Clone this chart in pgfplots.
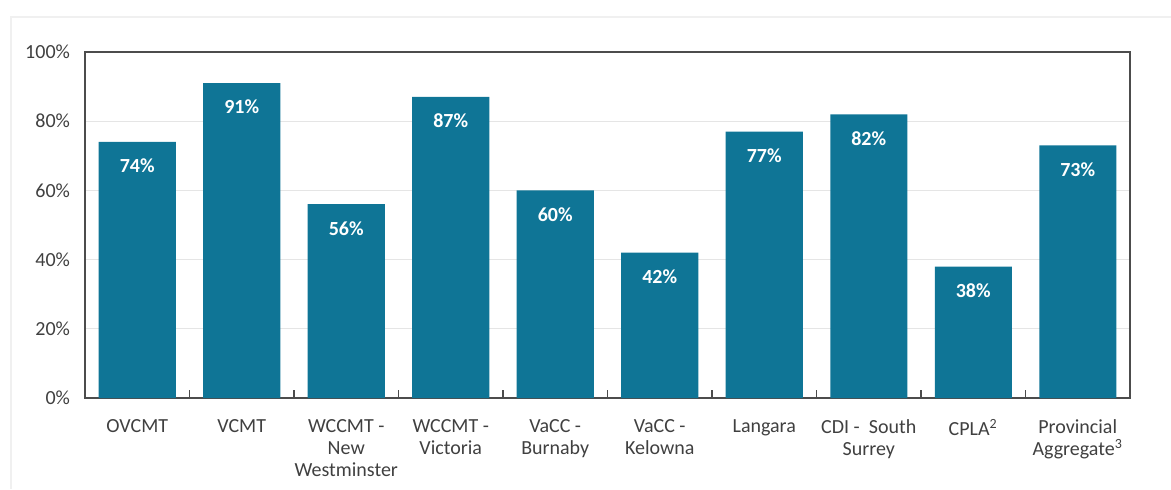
\documentclass[border=0pt]{standalone}
\usepackage{pgfplots}
\pgfplotsset{compat=1.18}
\usepackage{fontspec}
\setmainfont{Carlito}
\definecolor{barc}{HTML}{0F7596}
\definecolor{txt}{HTML}{404040}
\begin{document}
\begin{tikzpicture}
\useasboundingbox (0pt,0pt) rectangle (585.5pt,244.5pt);
\draw[gray!12,line width=0.8pt] (5.5pt,0pt) -- (5.5pt,236pt) -- (585.5pt,236pt);
\begin{axis}[
  at={(42.5pt,45.5pt)}, anchor=south west,
  scale only axis, width=522.5pt, height=173pt,
  ymin=0, ymax=100, xmin=-0.5, xmax=9.5,
  ytick={0,20,...,100},
  yticklabel={\pgfmathprintnumber{\tick}\%},
  /pgf/number format/assume math mode=true,
  ymajorgrids, grid style={gray!20, line width=0.6pt},
  major y tick style={draw=none},
  axis line style={draw=black!70, line width=0.8pt},
  xtick=data,
  xticklabels={OVCMT,VCMT,{WCCMT -\\New\\Westminster},{WCCMT -\\Victoria},{VaCC -\\Burnaby},{VaCC -\\Kelowna},Langara,{CDI -~~South\\Surrey},{CPLA\textsuperscript{2}},{Provincial\\Aggregate\textsuperscript{3}}},
  major x tick style={draw=none},
  extra x ticks={0.5,1.5,...,8.5},
  extra x tick labels={},
  extra x tick style={major tick length=4pt, tick pos=bottom, tick align=inside, major x tick style={draw=black!70,line width=0.7pt}, grid=none},
  xticklabel style={align=center, font=\fontsize{10}{11}\selectfont, text=txt, yshift=-3pt},
  yticklabel style={font=\fontsize{10}{11}\selectfont, text=txt, xshift=-4pt},
  ybar, bar width=38.5pt,
  nodes near coords={\pgfmathprintnumber{\pgfplotspointmeta}\%},
  every node near coord/.append style={anchor=center, yshift=-12pt, font=\bfseries\fontsize{10}{12}\selectfont, text=white},
]
\addplot[fill=barc, draw=none] coordinates {(0,74) (1,91) (2,56) (3,87) (4,60) (5,42) (6,77) (7,82) (8,38) (9,73)};
\end{axis}
\end{tikzpicture}
\end{document}
